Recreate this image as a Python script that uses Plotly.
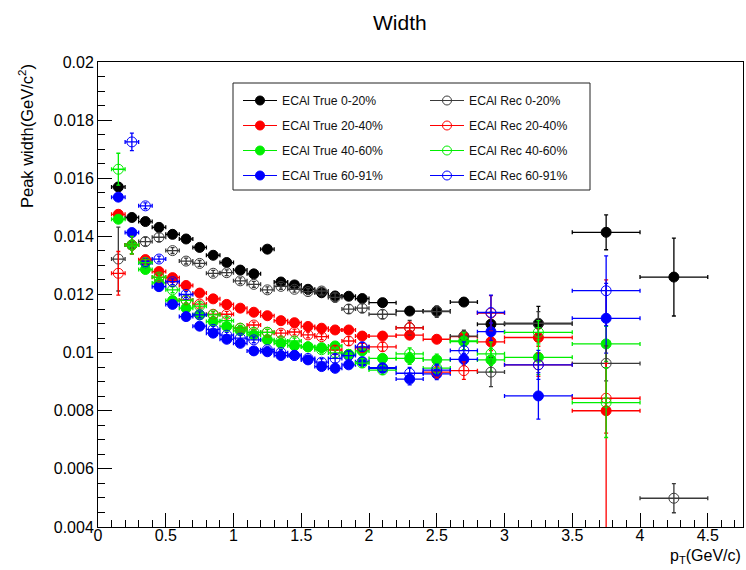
import plotly.graph_objects as go

# ---------------- data ----------------
pt_centers = [0.15, 0.25, 0.35, 0.45, 0.55, 0.65, 0.75, 0.85, 0.95, 1.05,
              1.15, 1.25, 1.35, 1.45, 1.55, 1.65, 1.75, 1.85, 1.95,
              2.1, 2.3, 2.5, 2.7, 2.9, 3.25, 3.75, 4.25]
pt_halfwidths = [0.05, 0.05, 0.05, 0.05, 0.05, 0.05, 0.05, 0.05, 0.05, 0.05,
                 0.05, 0.05, 0.05, 0.05, 0.05, 0.05, 0.05, 0.05, 0.05,
                 0.1, 0.1, 0.1, 0.1, 0.1, 0.25, 0.25, 0.25]

true_0_20 = [0.0157, 0.01465, 0.01451, 0.01431, 0.01407, 0.01391, 0.01362, 0.01335, 0.01310, 0.01284,
             0.01271, 0.01356, 0.01243, 0.01233, 0.01218, 0.01206, 0.01195, 0.01194, 0.01186,
             0.01172, 0.01143, 0.01143, 0.01174, 0.01098, 0.01099, 0.01414, 0.01260]
true_0_20_err = [0.00015, 0.0001, 0.0001, 0.0001, 0.0001, 0.0001, 0.0001, 0.0001, 0.0001, 0.0001,
                 0.0001, 0.0001, 0.0001, 0.0001, 0.0001, 0.0001, 0.0001, 0.0001, 0.0001,
                 0.00012, 0.00012, 0.00012, 0.00012, 0.0004, 0.0006, 0.0006, 0.00134]

rec_0_20 = [0.01322, 0.0137, 0.01382, 0.01397, 0.01351, 0.01315, 0.01307, 0.01273, 0.01275, 0.01247,
            0.01235, 0.01216, 0.01228, 0.01218, 0.0121, 0.01212, 0.0119, 0.0115, 0.01153,
            0.01132, 0.01086, 0.01141, 0.01057, 0.00933, 0.01101, 0.00963, 0.00499]
rec_0_20_err = [0.0011, 0.0001, 0.00015, 0.00015, 0.0001, 0.0001, 0.0001, 0.0001, 0.0001, 0.0001,
                0.0001, 0.0001, 0.0001, 0.0001, 0.0001, 0.00012, 0.00015, 0.00015, 0.00015,
                0.00015, 0.00025, 0.0002, 0.0002, 0.0005, 0.0004, 0.0006, 0.0005]

true_20_40 = [0.01476, 0.0137, 0.01319, 0.01279, 0.01258, 0.01231, 0.01205, 0.01185, 0.01166, 0.01153,
              0.01139, 0.01127, 0.0111, 0.01103, 0.0109, 0.01084, 0.01078, 0.01078, 0.01057,
              0.01057, 0.0106, 0.01046, 0.01055, 0.01037, 0.01052, 0.0080, None]
true_20_40_err = [0.0001, 0.0003, 0.0001, 0.0001, 0.0001, 0.0001, 0.0001, 0.0001, 0.0001, 0.0001,
                  0.0001, 0.0001, 0.0001, 0.0001, 0.0001, 0.0001, 0.0001, 0.0001, 0.0001,
                  0.0001, 0.0001, 0.0001, 0.00015, 0.0003, 0.0003, 0.0045, None]

rec_20_40 = [0.01273, 0.0137, 0.0132, 0.01259, 0.01244, 0.01181, 0.01167, 0.01132, 0.01132, 0.01084,
             0.01095, 0.0107, 0.01067, 0.01071, 0.01061, 0.01055, 0.01009, 0.0104, 0.01017,
             0.0102, 0.01085, 0.00933, 0.00938, 0.01136, 0.00958, 0.00843, None]
rec_20_40_err = [0.00075, 0.0003, 0.0001, 0.0001, 0.0001, 0.0001, 0.0001, 0.0001, 0.0001, 0.0001,
                 0.0001, 0.0001, 0.0001, 0.0001, 0.0001, 0.0001, 0.00015, 0.00015, 0.00015,
                 0.00015, 0.0002, 0.0002, 0.0003, 0.0006, 0.0004, 0.0012, None]

true_40_60 = [0.01459, 0.0137, 0.01286, 0.0124, 0.01179, 0.01153, 0.0113, 0.01107, 0.0109, 0.01075,
              0.01061, 0.01044, 0.01032, 0.01024, 0.0102, 0.01017, 0.01023, 0.00994, 0.01006,
              0.0098, 0.0098, 0.00975, 0.01038, 0.00975, 0.00984, 0.0103, None]
true_40_60_err = [0.0001, 0.0003, 0.0001, 0.0001, 0.0001, 0.0001, 0.0001, 0.0001, 0.0001, 0.0001,
                  0.0001, 0.0001, 0.0001, 0.0001, 0.0001, 0.0001, 0.0001, 0.0001, 0.0001,
                  0.00015, 0.0002, 0.0002, 0.0003, 0.0004, 0.0006, 0.0006, None]

rec_40_60 = [0.01631, 0.0137, 0.0131, 0.0126, 0.01216, 0.0118, 0.0116, 0.0113, 0.0111, 0.01084,
             0.0107, 0.0107, 0.0104, 0.0104, 0.0102, 0.0101, 0.00999, 0.00994, 0.00964,
             0.0094, 0.00996, 0.00947, 0.0104, 0.00996, 0.0107, 0.00828, None]
rec_40_60_err = [0.00055, 0.0003, 0.0001, 0.0001, 0.0001, 0.0001, 0.0001, 0.0001, 0.0001, 0.0001,
                 0.0001, 0.0001, 0.0001, 0.0001, 0.0001, 0.00012, 0.00015, 0.00015, 0.00015,
                 0.00015, 0.0002, 0.0002, 0.0003, 0.0004, 0.0004, 0.0012, None]

true_60_91 = [0.01535, 0.01413, 0.01309, 0.01227, 0.01166, 0.01124, 0.01091, 0.01067, 0.01046, 0.01032,
              0.01006, 0.01003, 0.0099, 0.00991, 0.00975, 0.00952, 0.00946, 0.00958, 0.00969,
              0.00946, 0.00909, 0.00927, 0.00977, 0.01072, 0.00851, 0.01118, None]
true_60_91_err = [0.0001, 0.0001, 0.0001, 0.0001, 0.0001, 0.0001, 0.0001, 0.0001, 0.0001, 0.0001,
                  0.0001, 0.0001, 0.0001, 0.0001, 0.0001, 0.0001, 0.0001, 0.0001, 0.0001,
                  0.00015, 0.0002, 0.0002, 0.0002, 0.0003, 0.0008, 0.0012, None]

rec_60_91 = [None, 0.01725, 0.01505, 0.01322, 0.01244, 0.0120, 0.0113, 0.0108, 0.0106, 0.0105,
             0.01044, 0.0101, 0.0100, 0.0099, 0.0098, 0.00967, 0.0098, 0.0099, 0.0102,
             0.00948, 0.00929, 0.0094, 0.01007, 0.01138, 0.00958, 0.01213, None]
rec_60_91_err = [None, 0.0003, 0.0001, 0.0001, 0.0001, 0.0001, 0.0001, 0.0001, 0.0001, 0.0001,
                 0.0001, 0.0001, 0.0001, 0.0001, 0.0001, 0.00012, 0.00015, 0.00015, 0.00015,
                 0.00015, 0.0002, 0.0002, 0.0003, 0.0006, 0.0005, 0.0012, None]

series_names = ["ECAl True 0-20%", "ECAl True 20-40%", "ECAl True 40-60%", "ECAl True 60-91%",
                "ECAl Rec 0-20%", "ECAl Rec 20-40%", "ECAl Rec 40-60%", "ECAl Rec 60-91%"]
series_values = [true_0_20, true_20_40, true_40_60, true_60_91,
                 rec_0_20, rec_20_40, rec_40_60, rec_60_91]
series_errors = [true_0_20_err, true_20_40_err, true_40_60_err, true_60_91_err,
                 rec_0_20_err, rec_20_40_err, rec_40_60_err, rec_60_91_err]
series_colors = ["#000000", "#ff0000", "#00ee00", "#0000ff",
                 "#3a3a3a", "#ff0000", "#00ee00", "#0000ff"]
series_filled = [True, True, True, True, False, False, False, False]

y_tick_vals = [0.004, 0.006, 0.008, 0.01, 0.012, 0.014, 0.016, 0.018, 0.02]
y_tick_text = ["0.004", "0.006", "0.008", "0.01", "0.012", "0.014", "0.016", "0.018", "0.02"]
x_tick_vals = [0, 0.5, 1, 1.5, 2, 2.5, 3, 3.5, 4, 4.5]
x_tick_text = ["0", "0.5", "1", "1.5", "2", "2.5", "3", "3.5", "4", "4.5"]

# ---------------- figure ----------------
FONT = "Liberation Sans, Arial, Helvetica, sans-serif"
fig = go.Figure()

for name, vals, errs, col, filled in zip(series_names, series_values, series_errors,
                                         series_colors, series_filled):
    xs = [x for x, v in zip(pt_centers, vals) if v is not None]
    hw = [h for h, v in zip(pt_halfwidths, vals) if v is not None]
    ys = [v for v in vals if v is not None]
    es = [e for e, v in zip(errs, vals) if v is not None]
    fig.add_trace(go.Scatter(
        x=xs, y=ys, mode="markers", showlegend=False, name=name,
        marker=dict(symbol="circle" if filled else "circle-open", size=10,
                    color=col, line=dict(color=col, width=1)),
        error_x=dict(type="data", array=hw, color=col, thickness=1.3, width=2),
        error_y=dict(type="data", array=es, color=col, thickness=1.3, width=2),
    ))

# legend entries (line + marker, like ROOT "lep")
for name, col, filled in zip(series_names, series_colors, series_filled):
    fig.add_trace(go.Scatter(
        x=[None], y=[None], mode="lines+markers", name=name,
        legend="legend" if filled else "legend2", legendgroup=name,
        marker=dict(symbol="circle" if filled else "circle-open", size=9,
                    color=col, line=dict(color=col, width=1)),
        line=dict(color=col, width=1.2),
    ))

W, H = 746, 570
L, R, T, B = 98, 3, 62, 43
pw, ph = W - L - R, H - T - B

def px(xp):
    return (xp - L) / pw

def py(yp):
    return (H - B - yp) / ph

legend_common = dict(bgcolor="rgba(0,0,0,0)", borderwidth=0,
                     font=dict(family=FONT, size=12.2, color="#111"),
                     tracegroupgap=6, yanchor="top", xanchor="left", itemwidth=34)

fig.update_layout(
    width=W, height=H,
    margin=dict(l=L, r=R, t=T, b=B, autoexpand=False),
    paper_bgcolor="white", plot_bgcolor="white",
    font=dict(family=FONT, size=16, color="black"),
    legend=dict(x=px(238), y=py(86), **legend_common),
    legend2=dict(x=px(425), y=py(86), **legend_common),
    xaxis=dict(range=[0, 4.76], showline=True, linecolor="black", linewidth=1, mirror=True,
               automargin=False, showgrid=False, zeroline=False,
               ticks="inside", ticklen=14, tickcolor="black", ticklabelstandoff=-6,
               tickvals=x_tick_vals, ticktext=x_tick_text, tickfont=dict(size=16),
               minor=dict(ticks="inside", ticklen=7, dtick=0.1, tickcolor="black", showgrid=False)),
    yaxis=dict(range=[0.004, 0.02], showline=True, linecolor="black", linewidth=1, mirror=True,
               automargin=False, showgrid=False, zeroline=False,
               ticks="inside", ticklen=14, tickcolor="black",
               tickvals=y_tick_vals, ticktext=y_tick_text, tickfont=dict(size=16),
               minor=dict(ticks="inside", ticklen=7, dtick=0.0005, tickcolor="black", showgrid=False)),
    shapes=[dict(type="rect", xref="paper", yref="paper",
                 x0=px(233), x1=px(590), y0=py(190), y1=py(83),
                 line=dict(color="#222", width=1), fillcolor="rgba(0,0,0,0)")],
    annotations=[
        dict(text="Width", xref="paper", yref="paper", x=px(400), y=py(22),
             showarrow=False, font=dict(size=21, family=FONT), xanchor="center", yanchor="middle"),
        dict(text="Peak width(GeV/c<sup>2</sup>)", xref="paper", yref="paper", x=px(26), y=1.0,
             textangle=-90, showarrow=False, font=dict(size=16.5, family=FONT),
             xanchor="center", yanchor="top"),
        dict(text="p<sub>T</sub>(GeV/c)", xref="paper", yref="paper", x=1.0, y=py(556),
             showarrow=False, font=dict(size=16, family=FONT), xanchor="right", yanchor="middle"),
    ],
)

fig.write_html("out.html", config={"displayModeBar": False},
               post_script="document.body.style.margin='0px';")
